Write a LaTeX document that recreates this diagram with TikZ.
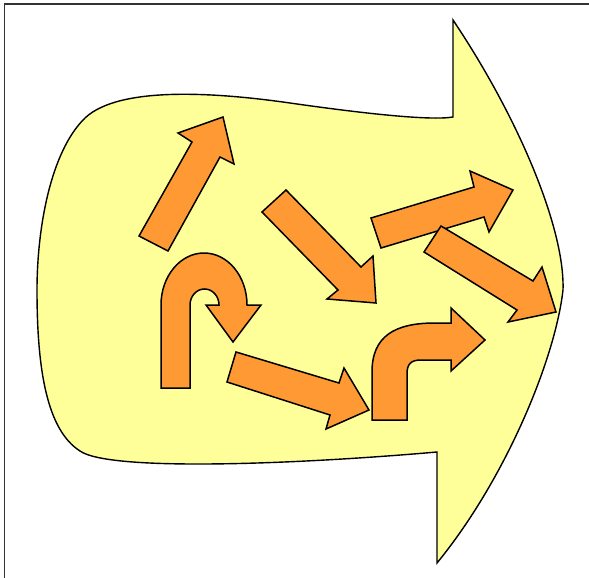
\documentclass[tikz,border=0pt]{standalone}
\usepackage{tikz}
\usepackage{xcolor}
\definecolor{myyellow}{HTML}{FFFF99}
\definecolor{myorange}{HTML}{FF9933}
\definecolor{myframe}{HTML}{333333}

\begin{document}
\begin{tikzpicture}[x=1pt,y=-1pt]
			\tikzset{% styles for the shapes
				framestyle/.style={draw=myframe,line width=1.5pt},
				bigarrow/.style={fill=myyellow,draw=black,line width=1.4pt,line join=miter},
				orangearrow/.style={fill=myorange,draw=black,line width=1.5pt,line join=miter}}
			\useasboundingbox (0,0) rectangle (589,578);
			\draw[framestyle] (4.5,578) -- (4.5,4) -- (589,4);
			% big yellow arrow
			\draw[bigarrow] (453,117) -- (453,20)
				.. controls (520,120) and (565,230) .. (563,290)
				.. controls (555,360) and (505,480) .. (437,563)
				-- (437,452)
				.. controls (300,464) and (110,472) .. (80,451)
				.. controls (47,430) and (37,370) .. (37,290)
				.. controls (37,230) and (50,152) .. (85,118)
				.. controls (120,85) and (220,93) .. (290,103)
				.. controls (360,113) and (430,121) .. cycle;
			% straight arrows
			\draw[orangearrow] (139,236) -- (168,251) -- (220,157) -- (234,164) -- (223,117) -- (178,133) -- (192,142) -- cycle;
			\draw[orangearrow] (262,212) -- (286,190) -- (361,267) -- (373,256) -- (376,303) -- (327,299) -- (338,290) -- cycle;
			\draw[orangearrow] (371,218) -- (381,248) -- (484,217) -- (489,232) -- (513,190) -- (470,171) -- (474,187) -- cycle;
			\draw[orangearrow] (424,252) -- (441,226) -- (533,281) -- (542,267) -- (556,312) -- (508,322) -- (517,310) -- cycle;
			\draw[orangearrow] (236,352) -- (227,382) -- (330,415) -- (326,429) -- (369,410) -- (344,368) -- (339,383) -- cycle;
			% u-turn arrow
			\draw[orangearrow] (161,388) -- (161,305)
				arc[start angle=180,end angle=360,x radius=43,y radius=52]
				-- (261,305) -- (233,342) -- (206,305) -- (219,305)
				arc[start angle=0,end angle=-180,x radius=14.5,y radius=16]
				-- (190,388) -- cycle;
			% bent arrow
			\draw[orangearrow] (372,420) -- (372,372)
				.. controls (372,336) and (395,323) .. (435,323)
				-- (451,323) -- (451,308) -- (485,340) -- (451,371) -- (451,360) -- (421,360)
				.. controls (411,360) and (407,364) .. (407,374)
				-- (407,420) -- cycle;
		\end{tikzpicture}
\end{document}
